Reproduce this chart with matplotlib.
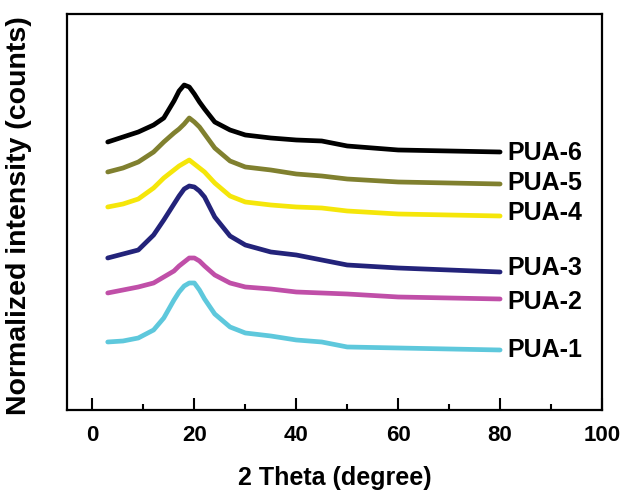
import matplotlib
matplotlib.use("Agg")
import matplotlib.pyplot as plt

# 2 theta positions (degree) where the curves were read
theta = [3, 6, 9, 12, 14, 16, 17, 18, 19, 20, 21, 22, 24, 27, 30, 35, 40, 45, 50, 60, 70, 80]

# normalized intensity, curves already stacked with their offsets
pua1 = [68, 69, 72, 80, 92, 110, 118, 124, 127, 127, 120, 111, 96, 83, 77, 74, 70, 68, 63, 62, 61, 60]
pua2 = [117, 120, 123, 127, 133, 139, 144, 148, 152, 152, 149, 144, 135, 127, 123, 121, 118, 117, 116, 113, 112, 111]
pua3 = [152, 156, 160, 175, 190, 206, 214, 221, 224, 223, 219, 213, 193, 174, 165, 158, 155, 150, 145, 142, 140, 138]
pua4 = [203, 206, 211, 222, 232, 240, 244, 247, 250, 246, 242, 238, 227, 214, 208, 205, 203, 202, 199, 196, 195, 194]
pua5 = [238, 242, 248, 258, 268, 277, 281, 286, 292, 288, 283, 276, 262, 249, 243, 240, 236, 234, 231, 228, 227, 226]
pua6 = [268, 273, 278, 285, 292, 309, 319, 325, 323, 316, 308, 301, 288, 280, 275, 272, 270, 269, 264, 260, 259, 258]

names = ["PUA-1", "PUA-2", "PUA-3", "PUA-4", "PUA-5", "PUA-6"]
colors = ["#5ec8dc", "#c04fa8", "#23237a", "#f5e60a", "#80802f", "#000000"]
label_y = [60, 108, 142, 197, 227, 257]


def main():
    plt.rcParams["font.family"] = ["Liberation Sans", "DejaVu Sans"]
    plt.rcParams["font.weight"] = "bold"

    fig = plt.figure(figsize=(6.23, 4.91), dpi=100)
    ax = fig.add_axes([0.1075, 0.165, 0.8588, 0.8065])

    # Draw each pattern and its name at the right end
    for name, ys, c, ly in zip(names, [pua1, pua2, pua3, pua4, pua5, pua6], colors, label_y):
        ax.plot(theta, ys, color=c, lw=3.4, solid_joinstyle="round", solid_capstyle="round")
        ax.text(81.5, ly, name, fontsize=18, fontweight="bold", va="center", ha="left")

    ax.set_xlim(-5, 100)
    ax.set_ylim(0, 396)
    ax.set_xticks([0, 20, 40, 60, 80, 100])
    ax.set_xticks([10, 30, 50, 70, 90], minor=True)
    ax.set_yticks([])
    ax.tick_params(axis="x", which="major", direction="in", length=9, width=1.5,
                   labelsize=16, pad=11, top=False)
    ax.tick_params(axis="x", which="minor", direction="in", length=4.5, width=1.5, top=False)
    for s in ax.spines.values():
        s.set_linewidth(1.6)

    ax.set_xlabel("2 Theta (degree)", fontsize=18, fontweight="bold")
    ax.set_ylabel("Normalized intensity (counts)", fontsize=20.5, fontweight="bold")
    ax.xaxis.set_label_coords(0.5, -0.141)
    ax.yaxis.set_label_coords(-0.065, 0.49)

    fig.savefig("out.png", dpi=100)


if __name__ == "__main__":
    main()
